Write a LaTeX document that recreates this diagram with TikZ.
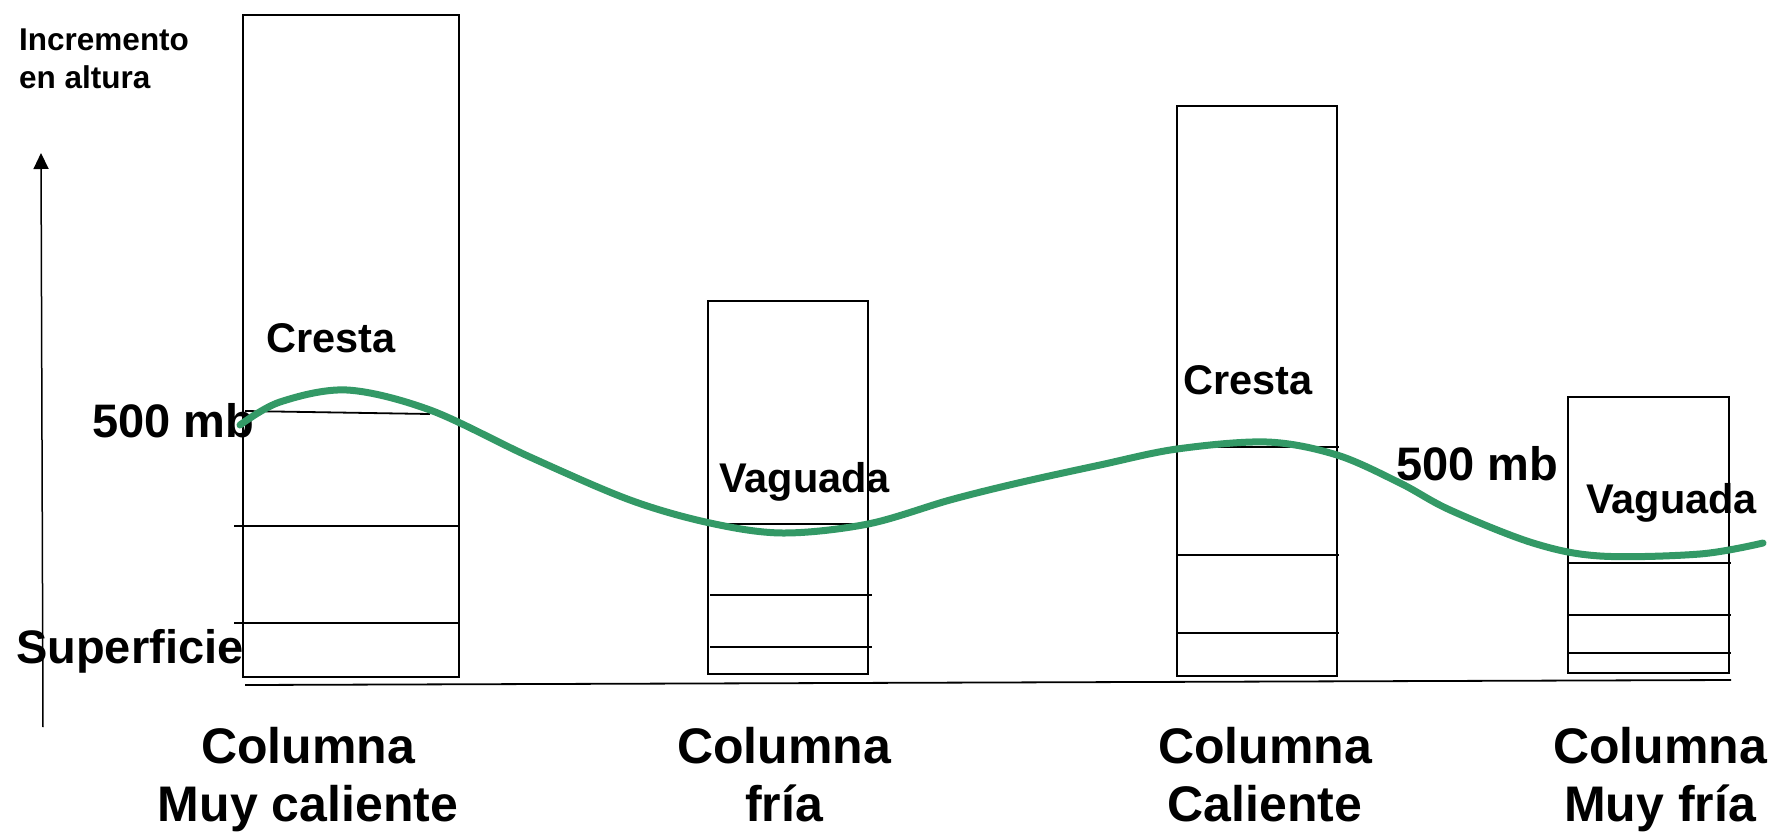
\documentclass[tikz,border=0pt]{standalone}
\usepackage{fontspec}
\setmainfont{Liberation Sans}
\usetikzlibrary{arrows.meta}
\definecolor{curvegreen}{RGB}{51,153,102}
\begin{document}
\begin{tikzpicture}[x=1pt,y=-1pt,
  colbox/.style={draw, line width=1.8pt, inner sep=0pt, outer sep=0pt, anchor=north west},
  lvl/.style={line width=1.8pt},
  headtxt/.style={inner sep=0pt, anchor=base west, font=\fontsize{31.5}{38}\selectfont\bfseries},
  tagtxt/.style={inner sep=0pt, anchor=base west, font=\fontsize{41.5}{48}\selectfont\bfseries},
  leveltxt/.style={inner sep=0pt, anchor=base west, font=\fontsize{47}{54}\selectfont\bfseries},
  coltxt/.style={inner sep=0pt, anchor=north, align=center, font=\fontsize{50}{58}\selectfont\bfseries},
  heightcurve/.style={line width=7pt, curvegreen, line cap=round}
]
\useasboundingbox (0,0) rectangle (1774,836);

% columns
\node[colbox, minimum width=216pt, minimum height=662pt] (c1) at (243,15) {};
\node[colbox, minimum width=160pt, minimum height=373pt] (c2) at (708,301) {};
\node[colbox, minimum width=160pt, minimum height=570pt] (c3) at (1177,106) {};
\node[colbox, minimum width=161pt, minimum height=276pt] (c4) at (1568,397) {};

% level lines
\draw[lvl] (245,411) -- (430,414);
\draw[lvl] (234,526) -- (458,526);
\draw[lvl] (234,623) -- (458,623);
\draw[lvl] (710,524) -- (868,524);
\draw[lvl] (710,595) -- (872,595);
\draw[lvl] (710,647) -- (872,647);
\draw[lvl] (1177,447) -- (1339,447);
\draw[lvl] (1177,555) -- (1339,555);
\draw[lvl] (1177,633) -- (1339,633);
\draw[lvl] (1568,563) -- (1731,563);
\draw[lvl] (1568,615) -- (1731,615);
\draw[lvl] (1568,653) -- (1731,653);

% ground line
\coordinate (g1) at (245,685);
\coordinate (g2) at (1731,680);
\draw[lvl] (g1) -- (g2);

% axis
\coordinate (axbot) at (43,727);
\coordinate (axtop) at (41,153);
\draw[line width=1.5pt, -{Triangle[width=15pt,length=16pt]}] (axbot) -- (axtop);

% texts
\node[headtxt] (inc1) at (19,50) {Incremento};
\node[headtxt] (inc2) at (19,88) {en altura};
\node[leveltxt] (mb1) at (92,437) {500 mb};
\node[leveltxt] (sup) at (16,663) {Superficie};
\node[tagtxt] (cr1) at (266,352) {Cresta};
\node[tagtxt] (va1) at (719,492) {Vaguada};
\node[tagtxt] (cr2) at (1183,394) {Cresta};
\node[leveltxt] (mb2) at (1396,480) {500 mb};
\node[tagtxt] (va2) at (1586,513) {Vaguada};

\node[coltxt] (l1) at (308,727) {Columna\\Muy caliente};
\node[coltxt] (l2) at (784,727) {Columna\\fría};
\node[coltxt] (l3) at (1265,727) {Columna\\Caliente};
\node[coltxt] (l4) at (1660,727) {Columna\\Muy fría};

% 500 mb surface
\draw[heightcurve] plot[smooth, tension=0.55] coordinates {
 (240,425) (280,402) (347,390) (430,410) (530,457) (630,500) (710,523)
 (783,533) (868,524) (950,500) (1018,483) (1100,465) (1177,449) (1267,442)
 (1337,455) (1400,483) (1450,510) (1533,543) (1600,556) (1700,554) (1763,543)};
\end{tikzpicture}
\end{document}
